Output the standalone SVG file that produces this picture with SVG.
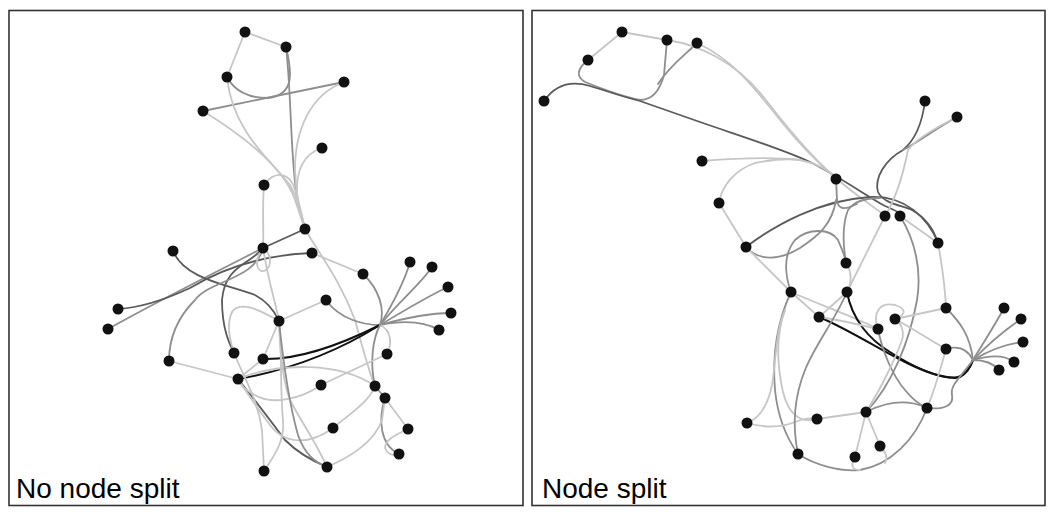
<svg xmlns="http://www.w3.org/2000/svg" width="1050" height="516" viewBox="0 0 1050 516">
<style>
.frame{fill:#fff;stroke:#333;stroke-width:1.6}
.lbl{font-family:"Liberation Sans",Arial,sans-serif;font-size:28px;fill:#000}
path{fill:none;stroke-width:1.8;stroke-linecap:round}
.l{stroke:#c6c6c6}
.m{stroke:#8e8e8e}
.d{stroke:#5a5a5a}
.k{stroke:#111;stroke-width:2}
circle{fill:#111}
</style>
<rect width="1050" height="516" fill="#fff"/>
<rect class="frame" x="9" y="10.5" width="514" height="495"/>
<rect class="frame" x="532" y="10.5" width="513" height="495"/>
<text class="lbl" x="16" y="498">No node split</text>
<text class="lbl" x="542" y="498">Node split</text>

<g id="connectors-left">
<path class="l" d="M245,32 L286,47"/>
<path class="l" d="M245,32 L227,77"/>
<path class="m" d="M286,47 C292,72 295,95 268,98 C248,98 234,90 227,77"/>
<path class="m" d="M344,82 L203,111"/>
<path class="m" d="M286,47 C292,100 290,160 298,205 L305,229"/>
<path class="l" d="M344,82 C310,95 295,130 295,170 C296,195 300,215 305,229"/>
<path class="l" d="M227,77 C232,130 270,160 290,185 C298,200 302,215 305,229"/>
<path class="l" d="M203,111 C250,140 285,170 295,200 L305,229"/>
<path class="l" d="M322,148 C300,155 296,175 297,195 L305,229"/>
<path class="l" d="M264,185 C275,170 290,172 295,190 L305,229"/>
<path class="l" d="M264,185 C262,210 264,230 263,248"/>
<path class="d" d="M305,229 L263,248"/>
<path class="m" d="M263,248 C220,270 160,300 108,329"/>
<path class="d" d="M312,253 C260,255 220,270 190,288 C160,302 135,308 118,309"/>
<path class="d" d="M173,251 C185,280 230,285 255,295 C268,302 275,312 279,321"/>
<path class="d" d="M263,248 C250,265 225,265 222,300 C222,330 230,345 234,353"/>
<path class="m" d="M263,248 C255,280 210,280 195,300 C175,320 169,340 169,361"/>
<path class="l" d="M263,248 C252,262 258,275 266,270 C273,264 270,252 263,248"/>
<path class="l" d="M263,248 C268,280 275,300 279,321"/>
<path class="l" d="M279,321 L326,300"/>
<path class="l" d="M305,229 C320,255 340,280 355,320 C362,345 368,370 375,386"/>
<path class="l" d="M312,253 L363,274"/>
<path class="m" d="M363,274 C380,290 385,310 380,325"/>
<path class="m" d="M326,300 C340,320 365,325 380,325"/>
<path class="m" d="M380,325 C395,300 405,280 410,262"/>
<path class="m" d="M380,325 C400,300 420,285 432,267"/>
<path class="m" d="M380,325 C405,310 430,295 448,287"/>
<path class="m" d="M380,325 C405,318 430,313 451,313"/>
<path class="m" d="M380,325 C405,320 425,322 439,330"/>
<path class="k" d="M263,359 C300,360 340,345 380,325"/>
<path class="k" d="M238,379 C290,370 340,350 380,325"/>
<path class="l" d="M380,325 C392,330 392,345 387,354"/>
<path class="m" d="M380,325 C372,340 370,365 375,386"/>
<path class="l" d="M321,385 L387,354"/>
<path class="l" d="M238,379 C280,362 340,362 375,386"/>
<path class="d" d="M238,379 C255,400 270,420 285,440 C300,455 315,462 327,467"/>
<path class="l" d="M321,385 C300,400 270,405 255,395 C245,390 240,385 238,379"/>
<path class="m" d="M375,386 L385,398"/>
<path class="l" d="M385,398 L408,429"/>
<path class="m" d="M385,398 C378,420 380,445 399,454"/>
<path class="l" d="M408,429 C395,435 385,440 385,448 C388,455 394,456 399,454"/>
<path class="l" d="M327,467 C355,455 375,440 382,420 L385,398"/>
<path class="l" d="M333,428 C355,410 370,400 375,386"/>
<path class="l" d="M333,428 C310,445 285,445 270,425 C255,405 245,390 238,379"/>
<path class="l" d="M264,471 C275,455 285,440 283,420 C280,390 282,350 279,321"/>
<path class="l" d="M327,467 C315,440 300,420 290,400 C282,380 280,350 279,321"/>
<path class="m" d="M279,321 C283,360 288,400 298,435 C305,455 315,462 327,467"/>
<path class="l" d="M234,353 C245,380 258,400 262,430 L264,471"/>
<path class="l" d="M169,361 L238,379"/>
<path class="l" d="M263,359 L238,379"/>
<path class="l" d="M279,321 L263,359"/>
<path class="l" d="M279,321 C260,310 240,300 232,312 C226,325 230,340 234,353"/>
</g>

<g id="connectors-right">
<path class="l" d="M622,32 L667,40"/>
<path class="l" d="M622,32 L588,60"/>
<path class="m" d="M588,60 C578,68 575,76 585,82 C600,88 620,96 640,100 C652,100 660,90 664,75 L667,40"/>
<path class="m" d="M697,43 C685,55 670,65 658,84"/>
<path class="d" d="M544,101 C555,85 570,80 590,86 C610,92 620,96 640,101 L700,122 C740,136 780,148 810,162 C840,177 865,195 885,206 C897,211 902,214 900,216"/>
<path class="l" d="M697,43 C735,60 760,95 780,120 C800,145 820,165 836,178 C855,195 872,205 885,216"/>
<path class="l" d="M667,40 C700,45 735,62 762,95 C785,125 815,160 836,178"/>
<path class="l" d="M702,161 C740,158 775,157 800,160 C815,163 828,170 836,178"/>
<path class="l" d="M719,203 C722,185 735,170 755,163 C770,160 785,158 800,160"/>
<path class="l" d="M719,203 L746,247"/>
<path class="d" d="M746,247 C775,225 820,200 870,197 C905,195 928,218 938,243"/>
<path class="d" d="M925,101 C922,125 915,140 903,150 C885,160 874,178 878,192 C883,203 900,205 912,210 C926,218 934,230 938,243"/>
<path class="m" d="M957,117 C937,128 918,142 903,150"/>
<path class="l" d="M957,117 C935,128 915,140 908,150 C903,175 895,200 885,216"/>
<path class="l" d="M885,216 L847,292"/>
<path class="m" d="M836,179 L837,200 C838,210 845,210 857,204"/>
<path class="m" d="M746,247 C760,262 780,260 800,248 C818,236 832,225 836,200"/>
<path class="m" d="M791,292 C785,275 783,255 795,240 C808,228 830,228 838,240 C842,250 845,255 846,263"/>
<path class="m" d="M846,263 C843,245 842,225 848,210 C855,200 870,198 880,198"/>
<path class="l" d="M746,247 L791,292"/>
<path class="l" d="M791,292 L819,317"/>
<path class="l" d="M819,317 L847,292"/>
<path class="l" d="M846,263 C852,272 852,282 847,292"/>
<path class="l" d="M791,292 C820,305 850,315 878,329"/>
<path class="k" d="M847,292 C852,320 870,340 890,352 C910,365 935,377 955,378 C965,376 970,368 973,360"/>
<path class="k" d="M819,317 C850,330 880,350 905,362 C925,372 945,380 960,377 C968,373 971,366 973,360"/>
<path class="m" d="M973,360 C985,340 995,325 1004,308"/>
<path class="m" d="M973,360 C990,342 1005,330 1021,319"/>
<path class="m" d="M973,360 C990,350 1005,344 1023,342"/>
<path class="m" d="M973,360 C990,355 1005,355 1014,362"/>
<path class="m" d="M973,360 C985,360 993,363 999,370"/>
<path class="m" d="M946,308 C960,322 970,335 973,360"/>
<path class="m" d="M946,349 C960,345 968,350 973,360"/>
<path class="m" d="M973,360 C960,378 950,385 952,395 C954,405 945,410 927,408"/>
<path class="l" d="M938,243 C942,265 945,285 946,308"/>
<path class="m" d="M900,216 C915,240 922,270 917,300 C910,340 892,385 866,412"/>
<path class="l" d="M900,216 L938,243"/>
<path class="l" d="M895,319 L946,308"/>
<path class="l" d="M895,319 C915,330 930,340 946,349"/>
<path class="m" d="M878,329 C882,350 892,375 905,390 C913,400 920,405 927,408"/>
<path class="l" d="M819,317 C840,320 860,325 878,329"/>
<path class="l" d="M946,349 C940,370 935,390 927,408"/>
<path class="m" d="M927,408 C910,400 890,400 866,412"/>
<path class="l" d="M866,412 L817,419"/>
<path class="l" d="M866,412 L855,457"/>
<path class="l" d="M866,412 L880,446"/>
<path class="l" d="M866,412 C880,390 895,360 902,340 C905,330 900,322 895,319"/>
<path class="m" d="M798,454 C815,465 840,472 860,470 C890,465 915,440 927,408"/>
<path class="l" d="M855,457 C850,465 852,470 860,470"/>
<path class="l" d="M880,446 C886,452 888,458 885,463"/>
<path class="l" d="M817,419 C798,424 788,412 783,392 C777,365 776,335 785,310"/>
<path class="m" d="M791,292 C778,320 772,355 775,390 C778,420 788,440 798,454"/>
<path class="l" d="M747,423 C760,418 768,405 772,385 C776,360 776,330 785,310"/>
<path class="l" d="M747,423 C765,428 780,428 795,422 C805,418 810,418 817,419"/>
<path class="m" d="M847,292 C835,320 815,345 805,370 C795,395 792,425 798,454"/>
<path class="l" d="M878,329 C872,312 880,302 895,305 C905,308 908,314 895,319"/>
</g>

<g id="nodes-left">
<g id="L1"><circle cx="245" cy="32" r="5.5"/></g>
<g id="L2"><circle cx="286" cy="47" r="5.5"/></g>
<g id="L3"><circle cx="227" cy="77" r="5.5"/></g>
<g id="L4"><circle cx="344" cy="82" r="5.5"/></g>
<g id="L5"><circle cx="203" cy="111" r="5.5"/></g>
<g id="L6"><circle cx="322" cy="148" r="5.5"/></g>
<g id="L7"><circle cx="264" cy="185" r="5.5"/></g>
<g id="L8"><circle cx="305" cy="229" r="5.5"/></g>
<g id="L9"><circle cx="263" cy="248" r="5.5"/></g>
<g id="L10"><circle cx="173" cy="251" r="5.5"/></g>
<g id="L11"><circle cx="312" cy="253" r="5.5"/></g>
<g id="L12"><circle cx="363" cy="274" r="5.5"/></g>
<g id="L13"><circle cx="410" cy="262" r="5.5"/></g>
<g id="L14"><circle cx="432" cy="267" r="5.5"/></g>
<g id="L15"><circle cx="448" cy="287" r="5.5"/></g>
<g id="L16"><circle cx="326" cy="300" r="5.5"/></g>
<g id="L17"><circle cx="118" cy="309" r="5.5"/></g>
<g id="L18"><circle cx="108" cy="329" r="5.5"/></g>
<g id="L19"><circle cx="279" cy="321" r="5.5"/></g>
<g id="L20"><circle cx="451" cy="313" r="5.5"/></g>
<g id="L21"><circle cx="439" cy="330" r="5.5"/></g>
<g id="L22"><circle cx="169" cy="361" r="5.5"/></g>
<g id="L23"><circle cx="234" cy="353" r="5.5"/></g>
<g id="L24"><circle cx="263" cy="359" r="5.5"/></g>
<g id="L25"><circle cx="387" cy="354" r="5.5"/></g>
<g id="L26"><circle cx="238" cy="379" r="5.5"/></g>
<g id="L27"><circle cx="321" cy="385" r="5.5"/></g>
<g id="L28"><circle cx="375" cy="386" r="5.5"/></g>
<g id="L29"><circle cx="385" cy="398" r="5.5"/></g>
<g id="L30"><circle cx="333" cy="428" r="5.5"/></g>
<g id="L31"><circle cx="408" cy="429" r="5.5"/></g>
<g id="L32"><circle cx="399" cy="454" r="5.5"/></g>
<g id="L33"><circle cx="264" cy="471" r="5.5"/></g>
<g id="L34"><circle cx="327" cy="467" r="5.5"/></g>
</g>

<g id="nodes-right">
<g id="R1"><circle cx="622" cy="32" r="5.5"/></g>
<g id="R2"><circle cx="667" cy="40" r="5.5"/></g>
<g id="R3"><circle cx="697" cy="43" r="5.5"/></g>
<g id="R4"><circle cx="588" cy="60" r="5.5"/></g>
<g id="R5"><circle cx="544" cy="101" r="5.5"/></g>
<g id="R6"><circle cx="925" cy="101" r="5.5"/></g>
<g id="R7"><circle cx="957" cy="117" r="5.5"/></g>
<g id="R8"><circle cx="702" cy="161" r="5.5"/></g>
<g id="R9"><circle cx="836" cy="179" r="5.5"/></g>
<g id="R10"><circle cx="719" cy="203" r="5.5"/></g>
<g id="R11"><circle cx="885" cy="216" r="5.5"/></g>
<g id="R12"><circle cx="900" cy="216" r="5.5"/></g>
<g id="R13"><circle cx="938" cy="243" r="5.5"/></g>
<g id="R14"><circle cx="746" cy="247" r="5.5"/></g>
<g id="R15"><circle cx="846" cy="263" r="5.5"/></g>
<g id="R16"><circle cx="791" cy="292" r="5.5"/></g>
<g id="R17"><circle cx="847" cy="292" r="5.5"/></g>
<g id="R18"><circle cx="819" cy="317" r="5.5"/></g>
<g id="R19"><circle cx="878" cy="329" r="5.5"/></g>
<g id="R20"><circle cx="895" cy="319" r="5.5"/></g>
<g id="R21"><circle cx="946" cy="308" r="5.5"/></g>
<g id="R22"><circle cx="946" cy="349" r="5.5"/></g>
<g id="R23"><circle cx="1004" cy="308" r="5.5"/></g>
<g id="R24"><circle cx="1021" cy="319" r="5.5"/></g>
<g id="R25"><circle cx="1023" cy="342" r="5.5"/></g>
<g id="R26"><circle cx="1014" cy="362" r="5.5"/></g>
<g id="R27"><circle cx="999" cy="370" r="5.5"/></g>
<g id="R28"><circle cx="927" cy="408" r="5.5"/></g>
<g id="R29"><circle cx="866" cy="412" r="5.5"/></g>
<g id="R30"><circle cx="817" cy="419" r="5.5"/></g>
<g id="R31"><circle cx="747" cy="423" r="5.5"/></g>
<g id="R32"><circle cx="880" cy="446" r="5.5"/></g>
<g id="R33"><circle cx="798" cy="454" r="5.5"/></g>
<g id="R34"><circle cx="855" cy="457" r="5.5"/></g>
</g>
</svg>
